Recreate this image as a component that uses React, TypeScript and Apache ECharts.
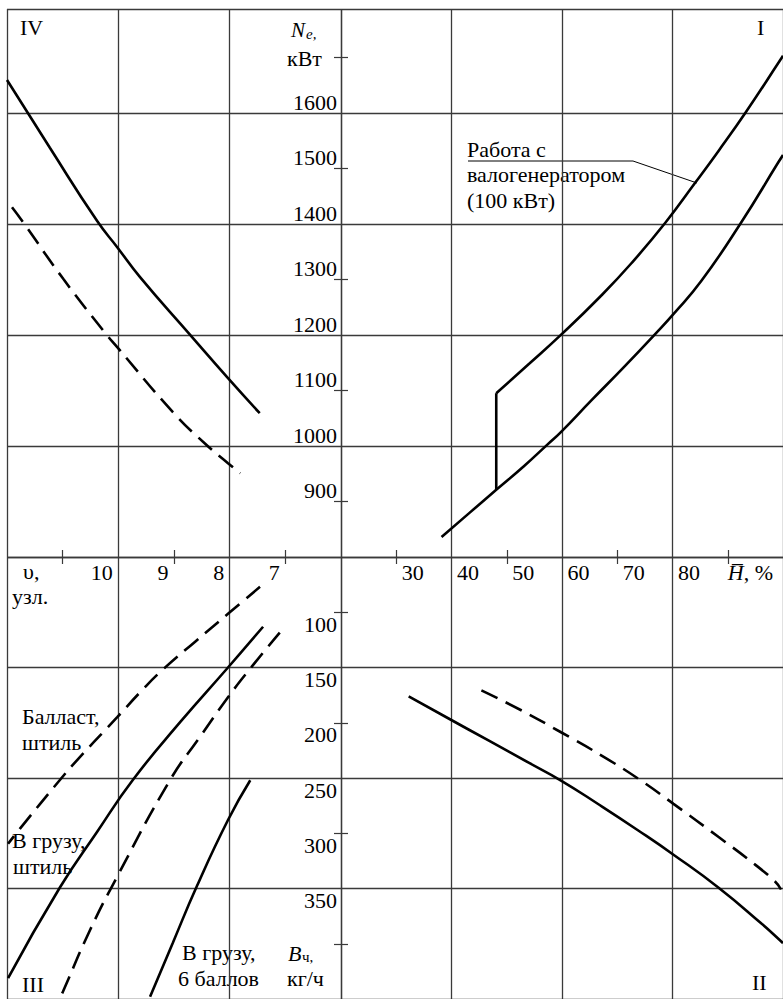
import React, { useEffect, useRef } from 'react';
import * as echarts from 'echarts';

const FONT = 'Liberation Serif';

// ---- axis ranges ----
const hRange = [20, 100]; // H̄, %
const nRange = [800, 1787]; // Ne, kW
const vRange = [6, 12]; // υ, knots
const bRange = [50, 450]; // Bч, kg/h

// ---- tick labels ----
const nLabels = [900, 1000, 1100, 1200, 1300, 1400, 1500, 1600];
const bLabels = [100, 150, 200, 250, 300, 350];
const hLabels = [30, 40, 50, 60, 70, 80, 90];
const vLabels = [10, 9, 8, 7];

// ---- Quadrant I: Ne vs H̄ ----
const q1WithGenerator = [
  [48.1, 1095], [54.05, 1148], [59.8, 1200], [66.67, 1266.5], [72.6, 1329.5], [78.7, 1402],
  [84.1, 1474], [88.3, 1531], [93.2, 1600], [99.5, 1695], [100, 1703],
];
const q1GeneratorSwitch = [[48.1, 921], [48.1, 1095]];
const q1NoGenerator = [
  [38.2, 836], [43.2, 879], [48.1, 921], [53.15, 964], [57.3, 1002], [59.8, 1025], [65.4, 1083],
  [71.2, 1142], [76.9, 1202], [80.2, 1238], [85.2, 1297], [92.4, 1402], [99.1, 1510], [100, 1524],
];

// ---- Quadrant IV: Ne vs υ ----
const q4Solid = [
  [12.0, 1659], [11.23, 1537], [10.38, 1405], [10.02, 1358], [9.61, 1304], [8.71, 1200], [8.03, 1122], [7.46, 1059],
];
const q4Dashed = [
  [11.91, 1430], [11.71, 1403], [10.99, 1301], [10.24, 1204], [10.02, 1178], [9.02, 1061],
  [8.44, 1004], [8.03, 969], [7.81, 951],
];

// ---- Quadrant III: Bч vs υ ----
const q3BallastCalm = [
  [7.455, 77], [8.03, 101.4], [8.62, 126.6], [9.2, 151.8], [9.61, 172.5], [10.02, 195],
  [10.74, 233.8], [11.05, 251.8], [11.77, 296], [11.98, 309.5],
];
const q3LoadedCalm = [
  [7.4, 113.1], [8.03, 150], [8.89, 199.5], [9.74, 251.8], [10.38, 298.6], [11.05, 349.1], [11.98, 431.1],
];
const q3LoadedCalmDashed = [
  [7.1, 118.5], [7.63, 150.9], [8.03, 177], [8.55, 214], [9.07, 251.8], [10.02, 339.2],
  [10.51, 387.8], [10.99, 442.8], [11.04, 448.2],
];
const q3LoadedStorm = [
  [7.63, 252], [8.03, 288], [8.59, 348], [9.02, 399], [9.43, 448],
];

// ---- Quadrant II: Bч vs H̄ ----
const q2Solid = [
  [32.25, 176.1], [39.64, 196.6], [46.85, 216.5], [54.05, 236.4], [59.82, 252.3], [66.67, 274],
  [73.87, 297.7], [80.18, 319.4], [88.29, 349.1], [96.04, 381.5], [99.64, 397.7], [100, 399.5],
];
const q2Dashed = [
  [45.41, 170.7], [52.61, 188.7], [59.82, 208.6], [67.93, 232], [74.41, 252.7], [80.18, 273.4],
  [88.29, 303.2], [94.95, 328.4], [98.56, 343.7], [99.64, 350.9],
];

const GRID_COLOR = '#3a3a3a';
const labelBase = { fontFamily: FONT, fontSize: 22, color: '#000' };

function baseAxis(extra: any) {
  return {
    type: 'value',
    axisLine: { show: false },
    axisTick: { show: false },
    axisLabel: { show: false },
    splitLine: { show: true, lineStyle: { color: GRID_COLOR, width: 1.3 } },
    minorTick: { show: true, splitNumber: 2, length: 7, lineStyle: { color: GRID_COLOR, width: 1.2 } },
    ...extra,
  };
}

function lineSeries(x: number, y: number, data: number[][], dashed: boolean, smooth: number | boolean = 0.5) {
  return {
    type: 'line',
    xAxisIndex: x,
    yAxisIndex: y,
    data,
    smooth,
    symbol: 'none',
    silent: true,
    lineStyle: { color: '#000', width: 2.6, type: dashed ? [18, 9] : 'solid' },
  };
}

function txt(text: string, x: number, y: number, size = 22, italic = false) {
  return {
    type: 'text',
    x,
    y,
    silent: true,
    style: {
      text,
      fill: '#000',
      fontFamily: FONT,
      fontSize: size,
      fontStyle: italic ? 'italic' : 'normal',
      align: 'left',
      verticalAlign: 'middle',
    },
  };
}

export default function App() {
  const ref = useRef<HTMLDivElement>(null);
  useEffect(() => {
    document.body.style.margin = '0';
    const chart = echarts.init(ref.current!, null, { renderer: 'svg' });
    const plain = (v: number) => String(v);
    const option: any = {
      animation: false,
      backgroundColor: '#fff',
      grid: [
        { left: 341, top: 9, width: 444, height: 548 }, // I
        { left: 7, top: 9, width: 334, height: 548 }, // IV
        { left: 341, top: 557, width: 444, height: 444 }, // II
        { left: 7, top: 557, width: 334, height: 444 }, // III
      ],
      xAxis: [
        baseAxis({ gridIndex: 0, min: hRange[0], max: hRange[1], interval: 20, position: 'bottom' }),
        baseAxis({ gridIndex: 1, min: vRange[0], max: vRange[1], interval: 2, inverse: true, position: 'bottom' }),
        baseAxis({
          gridIndex: 2, min: hRange[0], max: hRange[1], interval: 20, position: 'top',
          axisLabel: {
            show: true, inside: true, customValues: hLabels, margin: 15, align: 'left', verticalAlign: 'middle',
            ...labelBase,
            formatter: (v: number) => (v === 90 ? '{i|H\u0305}, %' : ' ' + String(v)),
            rich: { i: { ...labelBase, fontStyle: 'italic' } },
          },
        }),
        baseAxis({
          gridIndex: 3, min: vRange[0], max: vRange[1], interval: 2, inverse: true, position: 'top',
          axisLabel: {
            show: true, inside: true, customValues: vLabels, margin: 15, align: 'right', verticalAlign: 'middle',
            ...labelBase,
            formatter: (v: number) => String(v) + ' ',
          },
        }),
      ],
      yAxis: [
        baseAxis({ gridIndex: 0, min: nRange[0], max: nRange[1], interval: 200, position: 'left' }),
        baseAxis({
          gridIndex: 1, min: nRange[0], max: nRange[1], interval: 200, position: 'right',
          axisLabel: {
            show: true, inside: true, customValues: nLabels, margin: 4, align: 'right', verticalAlign: 'bottom',
            lineHeight: 21, ...labelBase, formatter: plain,
          },
        }),
        baseAxis({ gridIndex: 2, min: bRange[0], max: bRange[1], interval: 100, inverse: true, position: 'left' }),
        baseAxis({
          gridIndex: 3, min: bRange[0], max: bRange[1], interval: 100, inverse: true, position: 'right',
          axisLabel: {
            show: true, inside: true, customValues: bLabels, margin: 4, align: 'right', verticalAlign: 'top',
            lineHeight: 24, ...labelBase, formatter: plain,
          },
        }),
      ],
      series: [
        lineSeries(0, 0, q1WithGenerator, false),
        lineSeries(0, 0, q1GeneratorSwitch, false, false),
        lineSeries(0, 0, q1NoGenerator, false),
        lineSeries(1, 1, q4Solid, false),
        lineSeries(1, 1, q4Dashed, true),
        lineSeries(3, 3, q3BallastCalm, true),
        lineSeries(3, 3, q3LoadedCalm, false),
        lineSeries(3, 3, q3LoadedCalmDashed, true),
        lineSeries(3, 3, q3LoadedStorm, false),
        lineSeries(2, 2, q2Solid, false),
        lineSeries(2, 2, q2Dashed, true),
      ],
      graphic: [
        txt('IV', 20, 27.5),
        txt('I', 757, 27.5),
        txt('III', 22, 984.5),
        txt('II', 752, 982.5),
        txt('N', 291, 30, 21, true),
        txt('e,', 306, 34, 15, true),
        txt('кВт', 287, 58),
        txt('Работа с', 467, 149.7),
        txt('валогенератором', 467, 174.7),
        txt('(100 кВт)', 467, 200.7),
        {
          type: 'polyline',
          silent: true,
          shape: { points: [[468, 161], [633, 161], [697, 183]] },
          style: { stroke: '#000', lineWidth: 1, fill: null },
        },
        txt('υ,', 23, 571.7),
        txt('узл.', 12, 596.7),
        txt('Балласт,', 22, 716.7),
        txt('штиль', 22, 742.7),
        txt('В грузу,', 12, 840),
        txt('штиль', 13, 866),
        txt('В грузу,', 182, 952),
        txt('6 баллов', 178, 978.7),
        txt('B', 288, 953, 22, true),
        txt('ч,', 302, 957, 15, false),
        txt('кг/ч', 287, 978),
      ],
    };
    chart.setOption(option);
    return () => chart.dispose();
  }, []);
  return <div ref={ref} style={{ width: 783, height: 999 }} />;
}
